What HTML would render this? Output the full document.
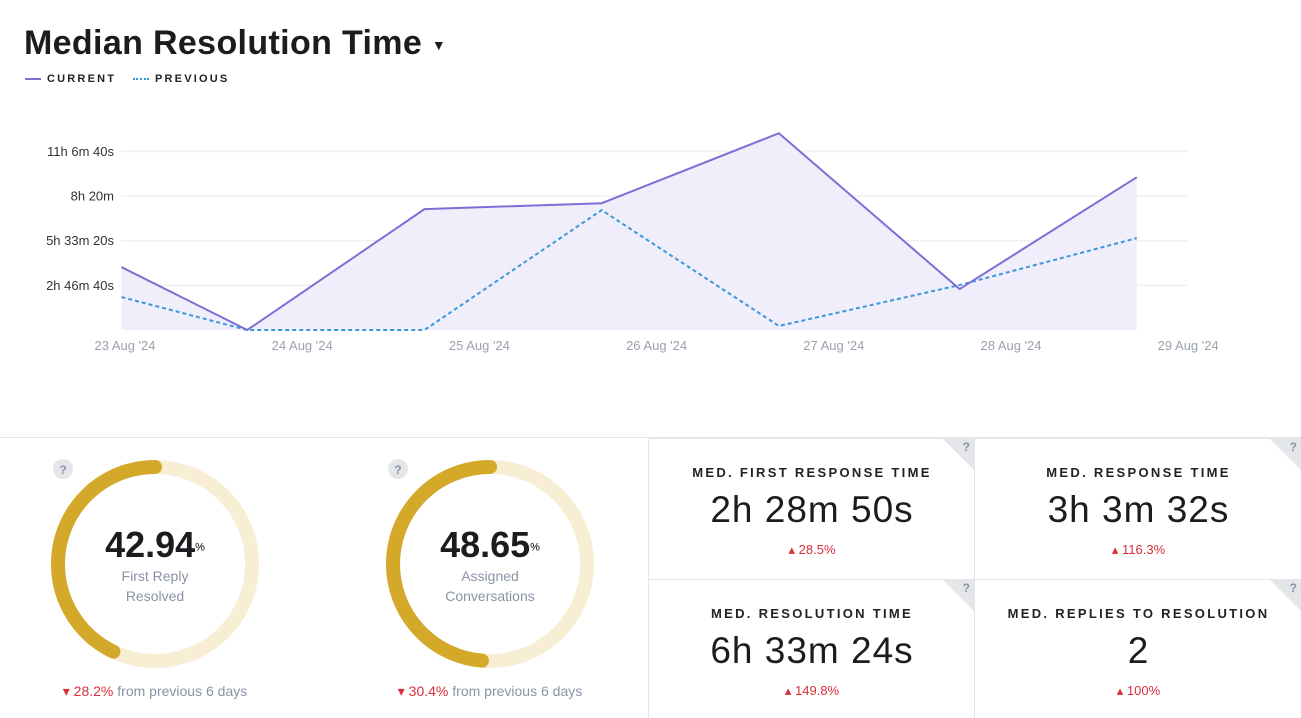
<!DOCTYPE html>
<html><head><meta charset="utf-8"><style>
body{margin:0;width:1301px;height:717px;overflow:hidden;background:#fff;font-family:"Liberation Sans",sans-serif;position:relative}
.abs{position:absolute}
.title{left:24px;top:24px;font-size:34px;font-weight:bold;color:#1d1b1f;letter-spacing:0.35px}
.leg{top:73px;font-size:11px;font-weight:bold;letter-spacing:2.2px;color:#222}
.cell{position:absolute;border-left:1px solid #e3e5e8;border-top:1px solid #e3e5e8;text-align:center;overflow:hidden}
.cell .lab{position:absolute;left:0;right:0;top:26px;font-size:13px;font-weight:bold;letter-spacing:2.3px;color:#222}
.cell .val{position:absolute;left:0;right:0;top:50px;font-size:37px;letter-spacing:1px;color:#1d1b1f}
.cell .chg{position:absolute;left:0;right:0;top:103px;font-size:13px;color:#d8303a}
.corner{position:absolute;right:0;top:0;width:0;height:0;border-top:32px solid #e4e6ea;border-left:32px solid transparent}
.q{position:absolute;right:5px;top:1px;font-size:12px;font-weight:bold;color:#8a93a5}
.donut-label{text-align:center;color:#8a93a5;font-size:14px;line-height:20px}
.big{font-size:36px;font-weight:bold;color:#1d1b1f}
.foot{font-size:14px;color:#8a93a5}
.foot span{color:#d8303a}
</style></head><body>
<div class="abs title">Median Resolution Time <span style="font-size:14px;vertical-align:middle">▼</span></div>
<div class="abs leg" style="left:25px"><span style="display:inline-block;width:16px;height:2px;background:#7b6fd6;vertical-align:middle;margin-right:6px"></span>CURRENT</div>
<div class="abs leg" style="left:133px"><span style="display:inline-block;width:16px;border-top:2px dotted #3a97d9;vertical-align:middle;margin-right:6px"></span>PREVIOUS</div>

<svg class="abs" style="left:0;top:0" width="1301" height="430">
<g id="grid"></g><g id="marks"></g><g id="labels"></g>
</svg>
<script>
const dayOffsets=[-0.02,0.69,1.69,2.69,3.69,4.71,5.71];
const currentVals=[14094,0,27070,28400,44070,9170,34230];
const previousVals=[7380,0,0,26850,900,10070,20580];
const yTicks=[10000,20000,30000,40000];
const yTickLabels=["2h 46m 40s","5h 33m 20s","8h 20m","11h 6m 40s"];
const xTickLabels=["23 Aug '24","24 Aug '24","25 Aug '24","26 Aug '24","27 Aug '24","28 Aug '24","29 Aug '24"];
const NS="http://www.w3.org/2000/svg";
const x=d=>125+d*177.2, y=v=>330-v*0.004465;
function mk(t,a,p){const e=document.createElementNS(NS,t);for(const k in a)e.setAttribute(k,a[k]);p.appendChild(e);return e;}
const grid=document.getElementById('grid'),marks=document.getElementById('marks'),labels=document.getElementById('labels');
yTicks.forEach((v,i)=>{
 const l=mk('line',{x1:121,x2:1187,y1:y(v),y2:y(v),stroke:'#eef0f3','stroke-width':1.5},grid);
 
 
 const t=mk('text',{x:114,y:y(v)+4.5,'text-anchor':'end','font-size':13,fill:'#333'},labels);
 t.textContent=yTickLabels[i];
 
 
});
xTickLabels.forEach((s,i)=>{
 const t=mk('text',{x:x(i),y:350,'text-anchor':'middle','font-size':13,fill:'#9aa1ad'},labels);
 t.textContent=s;
 
 
});
const cp=dayOffsets.map((d,i)=>x(d)+','+y(currentVals[i])).join(' ');
const pp=dayOffsets.map((d,i)=>x(d)+','+y(previousVals[i])).join(' ');
const area=mk('polygon',{points:x(dayOffsets[0])+','+y(0)+' '+cp+' '+x(dayOffsets[dayOffsets.length-1])+','+y(0),fill:'#f0eefa'},marks);


const pl=mk('polyline',{points:pp,fill:'none',stroke:'#3a97d9','stroke-width':2,'stroke-dasharray':'4 3'},marks);


const cl=mk('polyline',{points:cp,fill:'none',stroke:'#7b6fd6','stroke-width':2},marks);


</script>

<div class="abs" style="left:0;top:437px;width:1301px;border-top:1px solid #e3e5e8"></div>

<div class="abs" style="left:0;top:438px;width:648px;height:279px">
<svg class="abs" style="left:0;top:0" width="648" height="279">
 <circle cx="155" cy="126" r="97" fill="none" stroke="#f8eed4" stroke-width="14"/>
 <circle cx="155" cy="126" r="97" fill="none" stroke="#d4a829" stroke-width="14" stroke-linecap="round" stroke-dasharray="261.7 1000" transform="translate(155 126) scale(-1 1) rotate(-90) translate(-155 -126)"/>
 <circle cx="490" cy="126" r="97" fill="none" stroke="#f8eed4" stroke-width="14"/>
 <circle cx="490" cy="126" r="97" fill="none" stroke="#d4a829" stroke-width="14" stroke-linecap="round" stroke-dasharray="296.5 1000" transform="translate(490 126) scale(-1 1) rotate(-90) translate(-490 -126)"/>
 <circle cx="63" cy="31" r="10" fill="#e4e6ea"/>
 <text x="63" y="36" text-anchor="middle" font-size="12" font-weight="bold" fill="#8a93a5">?</text>
 <circle cx="398" cy="31" r="10" fill="#e4e6ea"/>
 <text x="398" y="36" text-anchor="middle" font-size="12" font-weight="bold" fill="#8a93a5">?</text>
</svg>
<div class="abs" style="left:55px;width:200px;top:86px;text-align:center"><span class="big">42.94</span><sup style="font-size:11px">%</sup><div class="donut-label">First Reply<br>Resolved</div></div>
<div class="abs" style="left:390px;width:200px;top:86px;text-align:center"><span class="big">48.65</span><sup style="font-size:11px">%</sup><div class="donut-label">Assigned<br>Conversations</div></div>
<div class="abs foot" style="left:0;width:310px;top:245px;text-align:center"><span>▾ 28.2%</span> from previous 6 days</div>
<div class="abs foot" style="left:335px;width:310px;top:245px;text-align:center"><span>▾ 30.4%</span> from previous 6 days</div>
</div>

<div class="cell" style="left:648px;top:438px;width:326px;height:140px"><div class="corner"></div><div class="q">?</div><div class="lab">MED. FIRST RESPONSE TIME</div><div class="val">2h 28m 50s</div><div class="chg">▴ 28.5%</div></div>
<div class="cell" style="left:974px;top:438px;width:327px;height:140px"><div class="corner"></div><div class="q">?</div><div class="lab">MED. RESPONSE TIME</div><div class="val">3h 3m 32s</div><div class="chg">▴ 116.3%</div></div>
<div class="cell" style="left:648px;top:579px;width:326px;height:138px"><div class="corner"></div><div class="q">?</div><div class="lab">MED. RESOLUTION TIME</div><div class="val">6h 33m 24s</div><div class="chg">▴ 149.8%</div></div>
<div class="cell" style="left:974px;top:579px;width:327px;height:138px"><div class="corner"></div><div class="q">?</div><div class="lab">MED. REPLIES TO RESOLUTION</div><div class="val">2</div><div class="chg">▴ 100%</div></div>
</body></html>
